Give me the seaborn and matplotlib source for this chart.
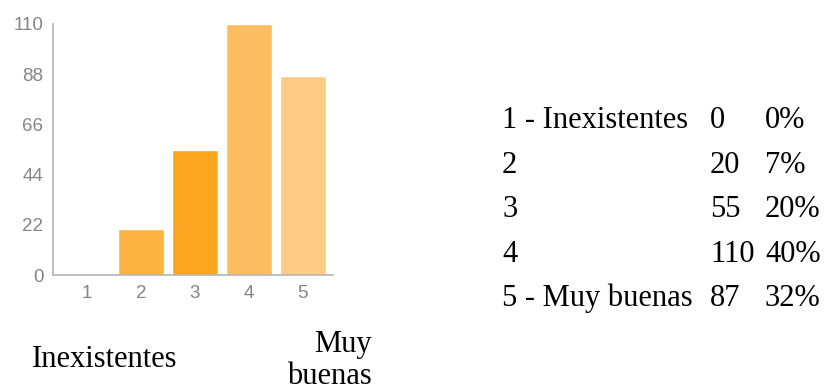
import numpy as np
import pandas as pd
import matplotlib
matplotlib.use("Agg")
import matplotlib.pyplot as plt
import seaborn as sns

# ============================================
# DATA
# ============================================

categories = ["1", "2", "3", "4", "5"]
counts = [0, 20, 55, 110, 87]
percents = ["0%", "7%", "20%", "40%", "32%"]
row_labels = ["1 - Inexistentes", "2", "3", "4", "5 - Muy buenas"]
y_ticks = [0, 22, 44, 66, 88, 110]
bar_colors = ["#FDB342", "#FDB342", "#FCA521", "#FDBE62", "#FECB85"]

low_label = "Inexistentes"
high_label = "Muy\nbuenas"

df = pd.DataFrame({"option": categories, "count": counts})

# ============================================
# PLOT
# ============================================

sns.set_style("white")
plt.rcParams["font.family"] = ["Liberation Sans", "DejaVu Sans"]

fig = plt.figure(figsize=(8.26, 3.9), dpi=100)
ax = fig.add_axes([53 / 826, 1 - 275 / 390, 280 / 826, 251 / 390])

sns.barplot(data=df, x="option", y="count", hue="option",
            palette=bar_colors, legend=False, width=0.85,
            saturation=1, ax=ax)

ax.set_xlim(-0.63, 4.56)
ax.set_ylim(0, 110)
ax.set_yticks(y_ticks)
ax.set_xlabel("")
ax.set_ylabel("")

for side in ["top", "right"]:
    ax.spines[side].set_visible(False)
for side in ["left", "bottom"]:
    ax.spines[side].set_color("#b5b5b5")
    ax.spines[side].set_linewidth(1.2)

ax.tick_params(axis="both", colors="#b5b5b5", labelcolor="#858585",
               labelsize=13.5, length=4, width=1, pad=3, direction="out")
ax.tick_params(axis="x", pad=3)

# -------- bottom scale labels --------
serif = ["Liberation Serif", "DejaVu Serif"]
fig.text(32 / 826, 1 - 367 / 390, low_label, fontsize=22, family=serif,
         ha="left", va="baseline", color="black")
fig.text(372 / 826, 1 - 384 / 390, high_label, fontsize=22, family=serif,
         ha="right", va="baseline", color="black", linespacing=1.12,
         multialignment="right")

# -------- summary table --------
row_y = [128, 173, 217, 262, 306]
for lbl, n, p, yy in zip(row_labels, counts, percents, row_y):
    fig.text(502 / 826, 1 - yy / 390, lbl, fontsize=22, family=serif,
             ha="left", va="baseline", color="black")
    fig.text(710 / 826, 1 - yy / 390, str(n), fontsize=22, family=serif,
             ha="left", va="baseline", color="black")
    fig.text(765 / 826, 1 - yy / 390, p, fontsize=22, family=serif,
             ha="left", va="baseline", color="black")

fig.savefig("out.png", dpi=100)
